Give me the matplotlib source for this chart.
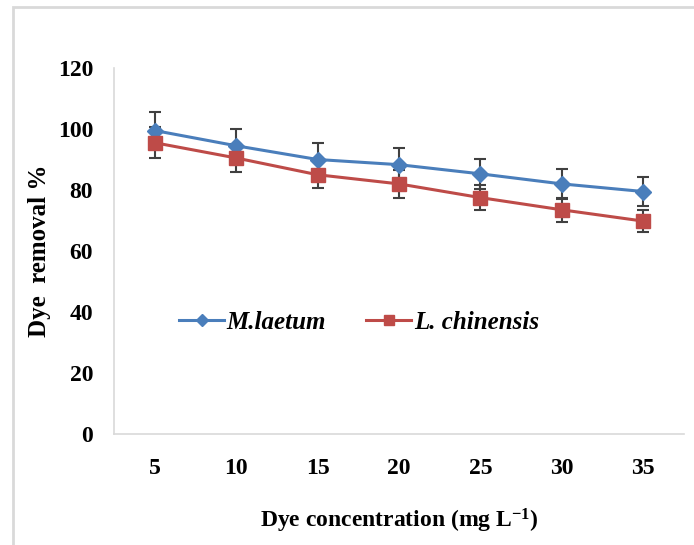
import matplotlib.pyplot as plt
import matplotlib.patches as mpatches
import numpy as np

# data
conc = ['5', '10', '15', '20', '25', '30', '35']
m_laetum = [99.5, 94.5, 90.0, 88.3, 85.3, 82.0, 79.5]
m_laetum_err = [6.0, 5.5, 5.5, 5.5, 5.0, 5.0, 4.7]
l_chinensis = [95.5, 90.5, 85.0, 82.0, 77.5, 73.5, 69.8]
l_chinensis_err = [5.0, 4.6, 4.5, 4.5, 4.0, 4.0, 3.6]

plt.rcParams['font.family'] = ['Liberation Serif', 'DejaVu Serif']
plt.rcParams['mathtext.fontset'] = 'custom'
plt.rcParams['mathtext.rm'] = 'Liberation Serif:bold'
plt.rcParams['mathtext.bf'] = 'Liberation Serif:bold'
plt.rcParams['mathtext.default'] = 'bf'

fig = plt.figure(figsize=(6.94, 5.45), dpi=100)
ax = fig.add_axes([114/694, 111/545, 570/694, 366/545])

# outer chart border (only top and left visible)
border = mpatches.Rectangle((13/694, -0.05), 1.2, (545-7)/545 + 0.05, transform=fig.transFigure,
                            fill=False, edgecolor='#d9d9d9', linewidth=2, clip_on=False)
fig.patches.append(border)

x = np.arange(len(conc))
blue = '#4a7ebb'
red = '#be4b48'

ax.errorbar(x, m_laetum, yerr=m_laetum_err, fmt='none', ecolor='#404040', elinewidth=1.5, capsize=4.5, capthick=1.5, zorder=2)
ax.errorbar(x, l_chinensis, yerr=l_chinensis_err, fmt='none', ecolor='#404040', elinewidth=1.5, capsize=4.5, capthick=1.5, zorder=2)
ax.plot(x, m_laetum, color=blue, lw=2.2, marker='D', ms=8.5, label='M.laetum', zorder=3)
ax.plot(x, l_chinensis, color=red, lw=2.2, marker='s', ms=9.5, label='L. chinensis', zorder=3)

ax.set_xlim(-0.5, len(conc) - 0.5)
ax.set_ylim(0, 120)
ax.set_yticks(range(0, 121, 20))
ax.set_xticks(x)
ax.set_xticklabels(conc)
ax.tick_params(axis='both', length=0, labelsize=17)
ax.tick_params(axis='y', pad=15)
ax.tick_params(axis='x', pad=17)
for lab in ax.get_xticklabels() + ax.get_yticklabels():
    lab.set_fontweight('bold')

for s in ['top', 'right']:
    ax.spines[s].set_visible(False)
for s in ['left', 'bottom']:
    ax.spines[s].set_color('#d9d9d9')
    ax.spines[s].set_linewidth(1.2)

ax.set_ylabel('Dye  removal %', fontsize=18, fontweight='bold')
ax.yaxis.set_label_coords(-0.11, 0.5)
ax.set_xlabel('Dye concentration (mg L$^{-1}$)', fontsize=17, fontweight='bold', labelpad=20)

leg = ax.legend(loc='center', bbox_to_anchor=(0.43, 0.306), ncol=2, frameon=False,
                prop={'size': 18, 'weight': 'bold', 'style': 'italic'},
                handlelength=1.8, columnspacing=1.6, handletextpad=0.1, markerscale=0.75)

plt.savefig('out.png', dpi=100)
